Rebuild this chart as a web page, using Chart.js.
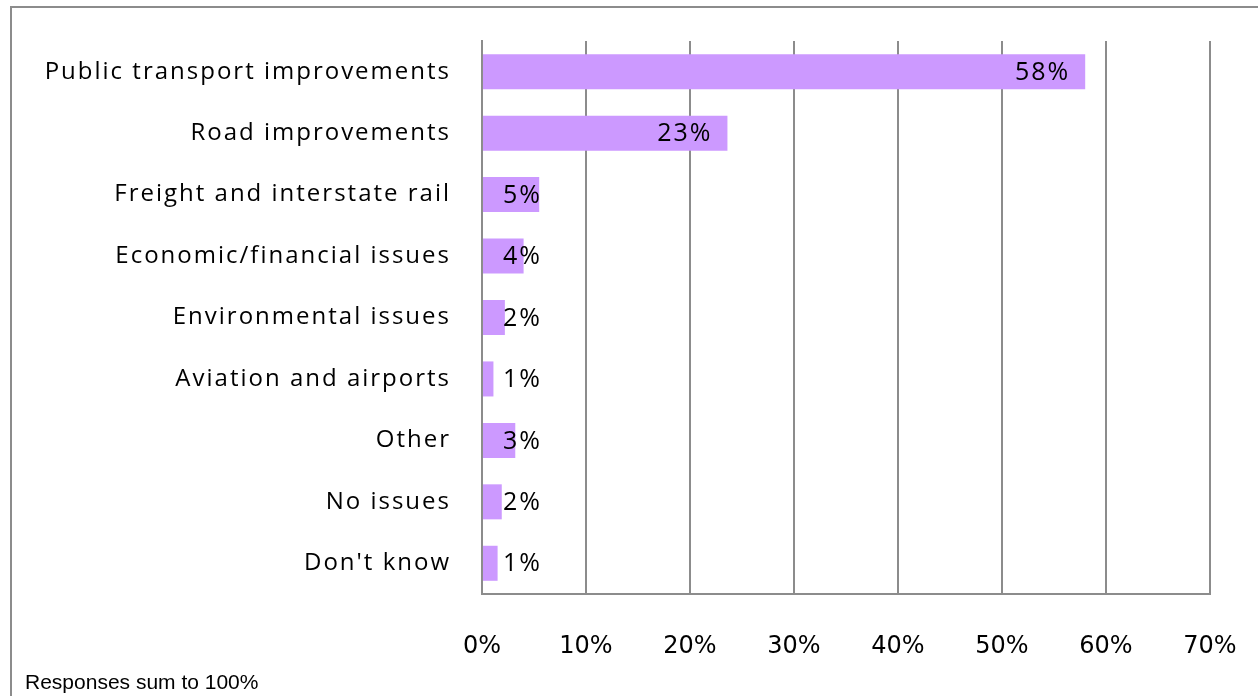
<!DOCTYPE html>
<html>
<head>
<meta charset="utf-8">
<script src="https://cdn.jsdelivr.net/npm/chart.js@4/dist/chart.umd.min.js"></script>
<style>
  html, body { margin: 0; padding: 0; background: #fff; overflow: hidden; }
  #wrap { position: relative; width: 1258px; height: 696px; }
  #frame { position: absolute; left: 10px; top: 6px; width: 1300px; height: 800px; border: 2px solid #8c8c8c; }
  #note { position: absolute; left: 25px; top: 670px; font: 21px "Liberation Sans", Arial, sans-serif; color: #000; white-space: nowrap; }
  canvas { position: absolute; left: 0; top: 0; }
</style>
</head>
<body>
<div id="wrap">
  <div id="frame"></div>
  <canvas id="chart" width="1258" height="696"></canvas>
  <div id="note">Responses sum to 100%</div>
</div>
<script>
// Chart data
const categories = [
  'Public transport improvements',
  'Road improvements',
  'Freight and interstate rail',
  'Economic/financial issues',
  'Environmental issues',
  'Aviation and airports',
  'Other',
  'No issues',
  "Don't know"
];
const shares = [58, 23.6, 5.5, 4.0, 2.2, 1.1, 3.2, 1.9, 1.5]; // bar lengths (%)
const shareLabels = ['58%', '23%', '5%', '4%', '2%', '1%', '3%', '2%', '1%'];

const spacing = '2px'; // wide tracking of the original labels

// Draws the value labels at the end of each bar
const barLabels = {
    id: 'barLabels',
    afterDatasetsDraw(chart) {
        const ctx = chart.ctx;
        const xScale = chart.scales.x;
        const meta = chart.getDatasetMeta(0);
        ctx.save();
        ctx.font = '25px "Open Sans", sans-serif';
        ctx.letterSpacing = spacing;
        ctx.fillStyle = '#000';
        ctx.textAlign = 'right';
        ctx.textBaseline = 'middle';
        const minRight = xScale.getPixelForValue(0) + 60;
        meta.data.forEach((bar, i) => {
            const right = Math.max(bar.x - 15, minRight);
            ctx.fillText(shareLabels[i], right, bar.y + 1);
        });
        ctx.restore();
    }
};

function noPadding(scale) {
    scale.paddingLeft = 0;
    scale.paddingRight = 0;
    scale.paddingTop = 0;
    scale.paddingBottom = 0;
}

const ctx = document.getElementById('chart').getContext('2d');
new Chart(ctx, {
    type: 'bar',
    data: {
        labels: categories,
        datasets: [{
            data: shares,
            backgroundColor: '#cc99ff',
            borderWidth: 0,
            categoryPercentage: 1,
            barPercentage: 0.57
        }]
    },
    plugins: [barLabels],
    options: {
        indexAxis: 'y',
        responsive: false,
        animation: false,
        layout: { padding: { left: 0, top: 41, right: 48, bottom: 0 } },
        plugins: {
            legend: { display: false },
            tooltip: { enabled: false }
        },
        scales: {
            x: {
                min: 0,
                max: 70,
                ticks: {
                    stepSize: 10,
                    padding: 38,
                    color: '#000',
                    font: { family: 'DejaVu Sans', size: 24 },
                    callback: v => v + '%'
                },
                grid: { color: '#8c8c8c', lineWidth: 2, drawTicks: false },
                border: { color: '#8c8c8c', width: 2 },
                afterFit: scale => {
                    scale.height = 102;
                    noPadding(scale);
                }
            },
            y: {
                ticks: {
                    padding: 31,
                    color: '#000',
                    font: { family: '"Open Sans", sans-serif', size: 24 }
                },
                grid: { display: false, drawTicks: false },
                border: { color: '#8c8c8c', width: 2 },
                afterFit: scale => {
                    scale.width = 482;
                    noPadding(scale);
                    if (!scale._spaced) {
                        // draw the category labels with the same tracking
                        const draw = scale.drawLabels;
                        scale.drawLabels = function (area) {
                            this.ctx.letterSpacing = spacing;
                            draw.call(this, area);
                            this.ctx.letterSpacing = '0px';
                        };
                        scale._spaced = true;
                    }
                }
            }
        }
    }
});
</script>
</body>
</html>
